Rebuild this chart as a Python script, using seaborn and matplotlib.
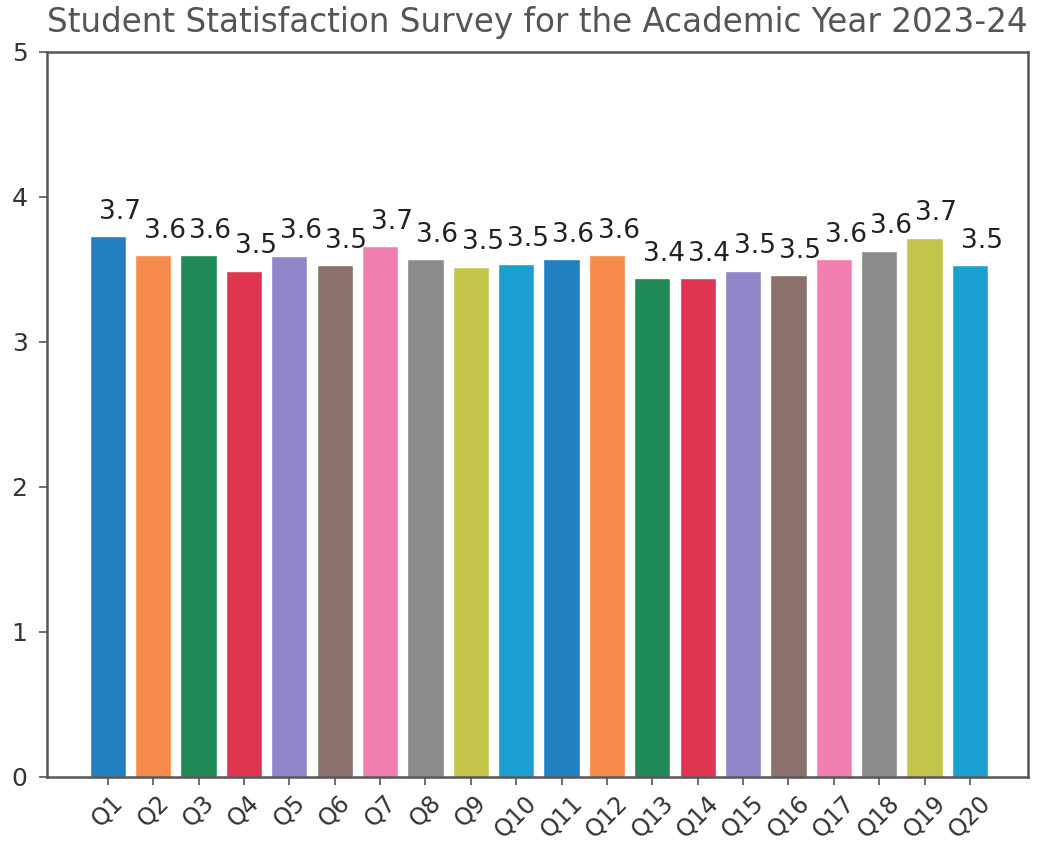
import matplotlib
matplotlib.use("Agg")
import matplotlib.pyplot as plt
import seaborn as sns
import pandas as pd

questions = [f"Q{i}" for i in range(1, 21)]
scores = [3.73, 3.60, 3.60, 3.49, 3.595, 3.53, 3.66, 3.57, 3.52, 3.54,
          3.57, 3.60, 3.44, 3.44, 3.49, 3.46, 3.57, 3.63, 3.72, 3.53]
colors = ["#2080c0", "#f58a4a", "#1f8a55", "#e03550", "#8f85c8",
          "#8a716c", "#f07fb0", "#8a8c8c", "#c3c44a", "#1aa0d0"] * 2
title = "Student Statisfaction Survey for the Academic Year 2023-24"

sns.set_style("white")
plt.rcParams['font.family'] = ['DejaVu Sans']

df = pd.DataFrame({"question": questions, "score": scores})

fig = plt.figure(figsize=(10.37, 8.51), dpi=100)
ax = fig.add_axes([0.0453, 0.087, 0.9460, 0.852])

sns.barplot(data=df, x="question", y="score", hue="question",
            palette=colors, legend=False, width=0.8, saturation=1, ax=ax)

for i, v in enumerate(scores):
    ax.text(i + 0.26, v + 0.12, f"{v:.1f}", ha="center", va="baseline",
            fontsize=19, color="#222222")

ax.set_ylim(0, 5)
ax.set_xlim(-1.34, 20.28)
ax.set_yticks([0, 1, 2, 3, 4, 5])
ax.set_xlabel("")
ax.set_ylabel("")
ax.set_title(title, fontsize=23.5, color="#555555", pad=14)

for s in ax.spines.values():
    s.set_color("#555555")
    s.set_linewidth(1.8)

ax.tick_params(axis="both", which="both", length=6, width=1.2, color="#555555",
               labelsize=18, labelcolor="#333333", left=True, bottom=True)
ax.tick_params(axis="y", pad=8)
ax.tick_params(axis="x", pad=4, labelsize=17)
plt.setp(ax.get_xticklabels(), rotation=45, ha="center")

fig.savefig("out.png", dpi=100)
